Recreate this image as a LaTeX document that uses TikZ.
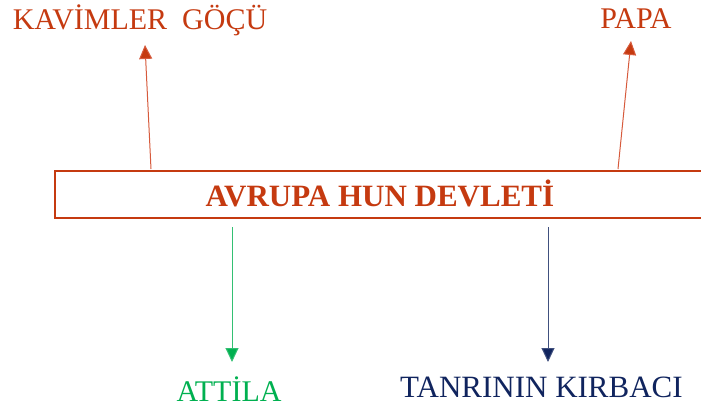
\documentclass[tikz,border=0pt]{standalone}
\usepackage{fontspec}
\setmainfont{Liberation Serif}
\usetikzlibrary{arrows.meta}
\definecolor{rust}{RGB}{197,58,16}
\definecolor{rustl}{RGB}{214,90,60}
\definecolor{grn}{RGB}{0,176,80}
\definecolor{navy}{RGB}{16,36,94}
\tikzset{
  lbl/.style={anchor=base, inner sep=0pt, font=\fontsize{30}{34}\selectfont},
  uparrow/.style={draw=rustl, line width=1pt, -{Triangle[length=14pt,width=13pt,fill=rust]}},
  dnarrow/.style={line width=1pt},
}
\begin{document}
\begin{tikzpicture}[x=1pt,y=-1pt]
\useasboundingbox (0,0) rectangle (701,412);
\clip (0,0) rectangle (701,412);
\node[draw=rust, line width=2pt, minimum width=660pt, minimum height=47pt, anchor=north west, inner sep=0pt] (box) at (54,169.5) {};
\node[anchor=base, inner sep=0pt, text=rust, font=\fontsize{31}{34}\selectfont\bfseries] (title) at (380,206) {AVRUPA HUN DEVLETİ};
\node[lbl, text=rust] (kav) at (140,30) {KAVİMLER\ \ GÖÇÜ};
\node[lbl, text=rust] (papa) at (636,29) {PAPA};
\node[lbl, text=grn] (attila) at (229,401) {ATTİLA};
\node[lbl, text=navy, font=\fontsize{31}{34}\selectfont] (tanri) at (541.5,397) {TANRININ KIRBACI};
\coordinate (kavs) at (151,169);
\coordinate (kave) at (145,45);
\coordinate (paps) at (618,169);
\coordinate (pape) at (631,41);
\coordinate (atts) at (232,227);
\coordinate (atte) at (232,362);
\coordinate (tans) at (548,227);
\coordinate (tane) at (548,362);
\draw[uparrow] (kavs) -- (kave);
\draw[uparrow] (paps) -- (pape);
\draw[dnarrow, draw=grn!80!white, -{Triangle[length=14pt,width=13pt,fill=grn]}] (atts) -- (atte);
\draw[dnarrow, draw=navy!80!white, -{Triangle[length=14pt,width=13pt,fill=navy]}] (tans) -- (tane);
\end{tikzpicture}
\end{document}
